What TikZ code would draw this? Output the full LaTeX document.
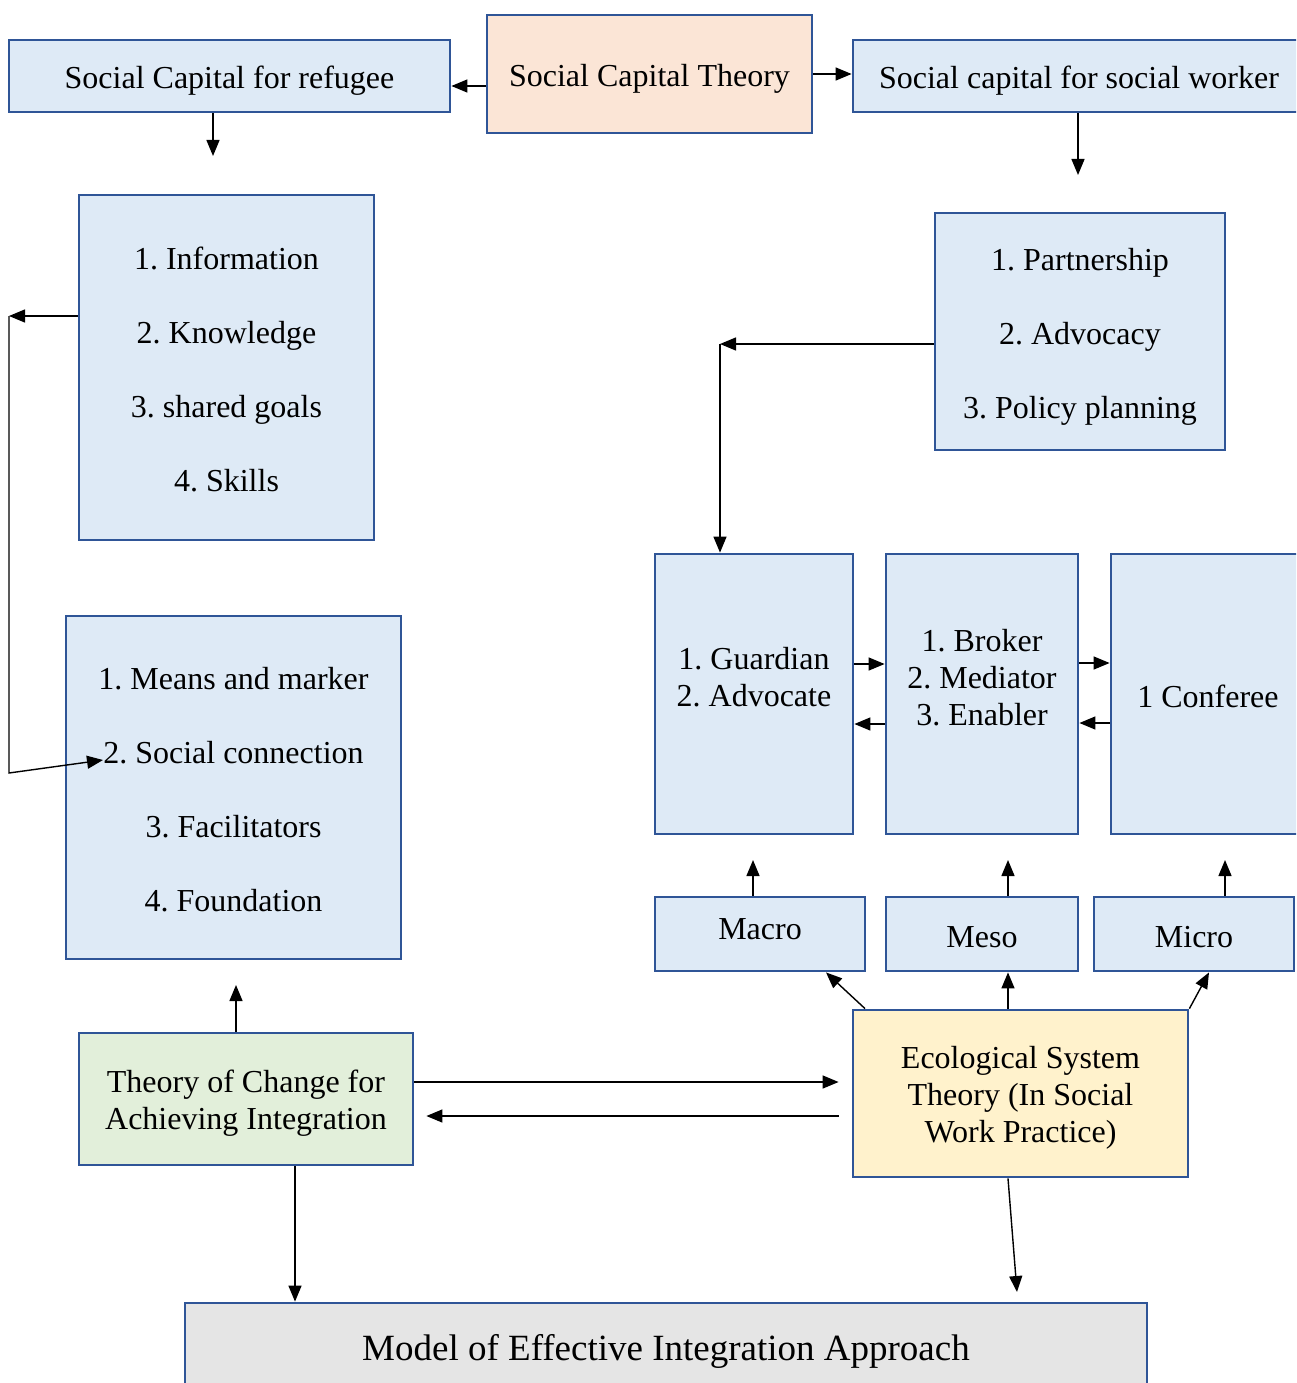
\documentclass[tikz,border=0pt]{standalone}
\usepackage{fontspec}
\setmainfont{Liberation Serif}
\usetikzlibrary{arrows.meta}
\frenchspacing
\definecolor{bord}{HTML}{2F5597}
\definecolor{bluef}{HTML}{DEEAF6}
\definecolor{peachf}{HTML}{FBE5D6}
\definecolor{greenf}{HTML}{E2EFDA}
\definecolor{yellowf}{HTML}{FFF2CC}
\definecolor{grayf}{HTML}{E5E5E5}
\tikzset{
 box/.style={draw=bord, line width=2.8pt, fill=bluef, inner sep=0pt},
 txt/.style={inner sep=0pt, align=center, font=\fontsize{32}{37}\selectfont},
 listtxt/.style={txt, font=\fontsize{32}{74}\selectfont},
 arr/.style={-{Triangle[length=16pt,width=13pt]}, line width=1.4pt},
}
\begin{document}
\begin{tikzpicture}[x=1pt,y=-1pt]
\useasboundingbox (0,0) rectangle (1296,1383);
\clip (0,0) rectangle (1296,1383);
% top row
\node[box, minimum width=441, minimum height=72] (ref) at (229.5,76) {};
\node[txt] (reft) at (229.5,81) {Social Capital for refugee};
\node[box, fill=peachf, minimum width=325, minimum height=118] (sct) at (649.5,74) {};
\node[txt] (sctt) at (649.5,79) {Social Capital Theory};
\node[box, minimum width=457, minimum height=72] (wrk) at (1081.5,76) {};
\node[txt] (wrkt) at (1079,81) {Social capital for social worker};
% list boxes
\node[box, minimum width=295, minimum height=345] (A) at (226.5,367.5) {};
\node[listtxt] (At) at (226.5,369.5) {1. Information\\2. Knowledge\\3. shared goals\\4. Skills};
\node[box, minimum width=290, minimum height=237] (B) at (1080,331.5) {};
\node[listtxt] (Bt) at (1080,336.5) {1. Partnership\\2. Advocacy\\3. Policy planning};
\node[box, minimum width=335, minimum height=343] (C) at (233.5,787.5) {};
\node[listtxt] (Ct) at (233.5,789.5) {1. Means and marker\\2. Social connection\\3. Facilitators\\4. Foundation};
% roles
\node[box, minimum width=198, minimum height=280] (G) at (754,694) {};
\node[txt] (Gt) at (754,677) {1. Guardian\\2. Advocate};
\node[box, minimum width=192, minimum height=280] (Br) at (982,694) {};
\node[txt] (Brt) at (982,678) {1. Broker\\2. Mediator\\3. Enabler};
\node[box, minimum width=194, minimum height=280] (Cf) at (1208,694) {};
\node[txt] (Cft) at (1208,696) {1 Conferee};
% levels
\node[box, minimum width=210, minimum height=74] (mac) at (760,934) {};
\node[txt] (mact) at (760,929) {Macro};
\node[box, minimum width=192, minimum height=74] (mes) at (982,934) {};
\node[txt] (mest) at (982,937) {Meso};
\node[box, minimum width=200, minimum height=74] (mic) at (1194,934) {};
\node[txt] (mict) at (1194,937) {Micro};
% theories
\node[box, fill=yellowf, minimum width=335, minimum height=167] (eco) at (1020.5,1093.5) {};
\node[txt] (ecot) at (1020.5,1097.5) {Ecological System\\Theory (In Social\\Work Practice)};
\node[box, fill=greenf, minimum width=334, minimum height=132] (toc) at (246,1099) {};
\node[txt] (toct) at (246,1103) {Theory of Change for\\Achieving Integration};
\node[box, fill=grayf, minimum width=962, minimum height=88] (mod) at (666,1347) {};
\node[txt, font=\fontsize{37}{44}\selectfont] (modt) at (666,1351) {Model of Effective Integration Approach};
% free ends
\coordinate (r1) at (213,156);
\coordinate (w1) at (1078,175);
\coordinate (c1) at (720,344);
\coordinate (l1) at (9,316);
\coordinate (l2) at (9,773);
\coordinate (l3) at (103,760);
\coordinate (m1) at (753,860);
\coordinate (m2) at (1008,860);
\coordinate (m3) at (1225,860);
\coordinate (t1) at (236,985);
\coordinate (e1) at (1017,1292);
% connectors
\draw[arr] (sct.west |- 0,86) -- (ref.east |- 0,86);
\draw[arr] (sct.east) -- (wrk.west |- sct.east);
\draw[arr] (ref.south -| r1) -- (r1);
\draw[arr] (wrk.south -| w1) -- (w1);
\draw[arr] (B.west |- c1) -- (c1);
\draw[arr] (c1) -- (G.north -| c1);
\draw[arr] (A.west |- l1) -- (l1);
\draw[arr] (l1) -- (l2) -- (l3);
\draw[arr] (G.east |- 0,664) -- (Br.west |- 0,664);
\draw[arr] (Br.west |- 0,724) -- (G.east |- 0,724);
\draw[arr] (Br.east |- 0,663) -- (Cf.west |- 0,663);
\draw[arr] (Cf.west |- 0,723) -- (Br.east |- 0,723);
\draw[arr] (mac.north -| m1) -- (m1);
\draw[arr] (mes.north -| m2) -- (m2);
\draw[arr] (mic.north -| m3) -- (m3);
\draw[arr] (eco.north -| 865,0) -- (mac.south -| 826,0);
\draw[arr] (eco.north -| 1008,0) -- (mes.south -| 1008,0);
\draw[arr] (eco.north east) -- (mic.south -| 1209,0);
\draw[arr] (toc.north -| t1) -- (t1);
\draw[arr, shorten >=13pt] (toc.east |- 0,1082) -- (eco.west |- 0,1082);
\draw[arr, shorten <=13pt, shorten >=12pt] (eco.west |- 0,1116) -- (toc.east |- 0,1116);
\draw[arr] (toc.south -| 295,0) -- (mod.north -| 295,0);
\draw[arr] (eco.south -| 1008,0) -- (e1);
\end{tikzpicture}
\end{document}
